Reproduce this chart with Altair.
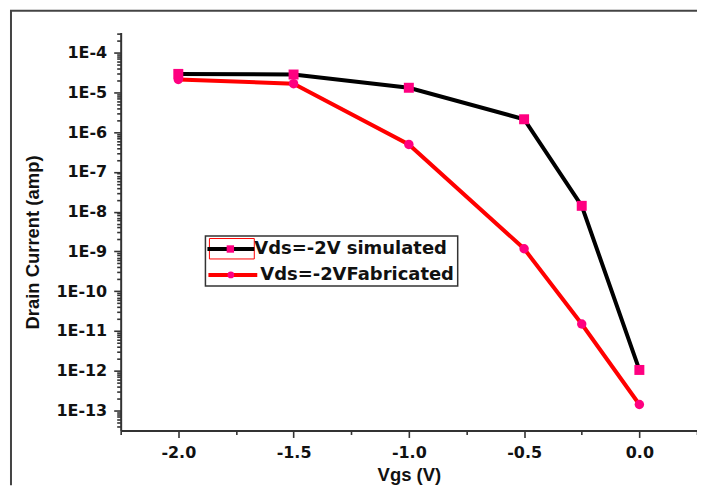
import altair as alt
import pandas as pd

# ---- data ----
vgs = [-2.0, -1.5, -1.0, -0.5, -0.25, 0.0]
id_simulated = [2.9e-5, 2.8e-5, 1.3e-5, 2.1e-6, 1.4e-8, 1.05e-12]
id_fabricated = [2.1e-5, 1.65e-5, 4.9e-7, 1.17e-9, 1.5e-11, 1.42e-13]
series_labels = ["Vds=-2V simulated", "Vds=-2VFabricated"]
x_tick_values = [-2.25, -2.0, -1.75, -1.5, -1.25, -1.0, -0.75, -0.5, -0.25, 0.0, 0.25]
y_decades = list(range(-14, -3))

y_lo, y_hi = 10 ** -13.5, 10 ** -3.5
y_tick_values = [k * 10.0 ** e for e in y_decades for k in range(1, 10)
                 if y_lo <= k * 10.0 ** e <= y_hi]

df = pd.DataFrame({
    "Vgs": vgs + vgs,
    "Id": id_simulated + id_fabricated,
    "series": [series_labels[0]] * len(vgs) + [series_labels[1]] * len(vgs),
})

LABEL_FONT = "DejaVu Sans"
TITLE_FONT = "Liberation Sans"
AX_COLOR = "#333333"
TXT_COLOR = "#111111"
PINK = "#ff0080"

PAD = {"left": 113, "top": 24, "right": 0, "bottom": 55}
W, H = 578, 399

is_major_x = "abs(datum.value*2 - round(datum.value*2)) < 0.001"
is_major_y = "abs(log(datum.value)/LN10 - round(log(datum.value)/LN10)) < 0.001"

x_axis = alt.Axis(
    values=x_tick_values,
    labelExpr=f"{is_major_x} ? (datum.value < 0 ? '-' : '') + format(abs(datum.value), '.1f') : ''",
    tickSize={"condition": {"test": is_major_x, "value": 7}, "value": 4},
    labelOverlap=False, labelFlush=False, labelBound=False,
    grid=False, domainColor=AX_COLOR, domainWidth=2, tickColor=AX_COLOR, tickWidth=1.6,
    labelFont=LABEL_FONT, labelFontSize=16, labelFontWeight="bold", labelColor=TXT_COLOR,
    labelBaseline="alphabetic", labelPadding=20,
    titleFont=TITLE_FONT, titleFontSize=18.5, titleFontWeight="bold", titleColor=TXT_COLOR,
    titleBaseline="alphabetic", titleY=50,
)

y_axis = alt.Axis(
    values=y_tick_values,
    labelExpr=f"{is_major_y} ? '1E-' + format(-round(log(datum.value)/LN10), 'd') : ''",
    tickSize={"condition": {"test": is_major_y, "value": 7}, "value": 4},
    labelOverlap=False, labelFlush=False, labelBound=False,
    grid=False, domainColor=AX_COLOR, domainWidth=2, tickColor=AX_COLOR, tickWidth=1.6,
    labelFont=LABEL_FONT, labelFontSize=16, labelFontWeight="bold", labelColor=TXT_COLOR,
    labelPadding=7, labelBaseline="middle",
    titleFont=TITLE_FONT, titleFontSize=18.5, titleFontWeight="bold", titleColor=TXT_COLOR,
    titleBaseline="alphabetic", titleAngle=270, titleX=-82, titleY=210,
)

x_enc = alt.X("Vgs:Q", scale=alt.Scale(domain=[-2.25, 0.25], nice=False, zero=False),
              axis=x_axis, title="Vgs (V)")
y_enc = alt.Y("Id:Q", scale=alt.Scale(type="log", domain=[y_lo, y_hi], nice=False),
              axis=y_axis, title="Drain Current (amp)")

base = alt.Chart(df).encode(x=x_enc, y=y_enc)

line_sim = base.transform_filter(alt.datum.series == series_labels[0]).mark_line(
    color="#000000", strokeWidth=4)
line_fab = base.transform_filter(alt.datum.series == series_labels[1]).mark_line(
    color="#ff0000", strokeWidth=4)
pts_sim = base.transform_filter(alt.datum.series == series_labels[0]).mark_point(
    shape="square", filled=True, color=PINK, opacity=1, size=100)
pts_fab = base.transform_filter(alt.datum.series == series_labels[1]).mark_point(
    shape="circle", filled=True, color=PINK, opacity=1, size=90)

one = pd.DataFrame({"k": [0]})

# outer frame (decorative), kept inside the drawing surface
frame_left = alt.Chart(one).mark_rule(color="#444444", strokeWidth=2).encode(
    x=alt.value(-110), y=alt.value(-22), y2=alt.value(H + PAD["bottom"]))
frame_top = alt.Chart(one).mark_rule(color="#444444", strokeWidth=2).encode(
    x=alt.value(-111), x2=alt.value(W + PAD["right"]), y=alt.value(-22))

# legend
leg_box = alt.Chart(one).mark_rect(fill="white", stroke="#333333", strokeWidth=1.5).encode(
    x=alt.value(85), x2=alt.value(338), y=alt.value(204), y2=alt.value(254))
leg_sel = alt.Chart(one).mark_rect(fill=None, stroke="#ff0000", strokeWidth=1).encode(
    x=alt.value(89), x2=alt.value(134), y=alt.value(206.5), y2=alt.value(227))
leg_line1 = alt.Chart(one).mark_rule(color="#000000", strokeWidth=4).encode(
    x=alt.value(87), x2=alt.value(134), y=alt.value(217))
leg_line2 = alt.Chart(one).mark_rule(color="#ff0000", strokeWidth=4).encode(
    x=alt.value(88), x2=alt.value(137), y=alt.value(243))
leg_sq = alt.Chart(one).mark_point(shape="square", filled=True, color=PINK, opacity=1, size=55).encode(
    x=alt.value(110), y=alt.value(217))
leg_ci = alt.Chart(one).mark_point(shape="circle", filled=True, color=PINK, opacity=1, size=45).encode(
    x=alt.value(110.5), y=alt.value(243))
leg_t1 = alt.Chart(pd.DataFrame({"label": [series_labels[0]]})).mark_text(
    align="left", baseline="middle", font=LABEL_FONT, fontSize=18, fontWeight="bold",
    color=TXT_COLOR).encode(text="label:N", x=alt.value(134), y=alt.value(217))
leg_t2 = alt.Chart(pd.DataFrame({"label": [series_labels[1]]})).mark_text(
    align="left", baseline="middle", font=LABEL_FONT, fontSize=18, fontWeight="bold",
    color=TXT_COLOR).encode(text="label:N", x=alt.value(140), y=alt.value(243.5))

chart = alt.layer(
    frame_left, frame_top,
    line_sim, line_fab, pts_sim, pts_fab,
    leg_box, leg_sel, leg_line1, leg_line2, leg_sq, leg_ci, leg_t1, leg_t2,
).properties(
    width=W, height=H,
    autosize=alt.AutoSizeParams(type="none"),
    padding=PAD,
    background="white",
).configure_view(stroke=None)

chart.save("out.html", embed_options={"renderer": "svg", "actions": False})
